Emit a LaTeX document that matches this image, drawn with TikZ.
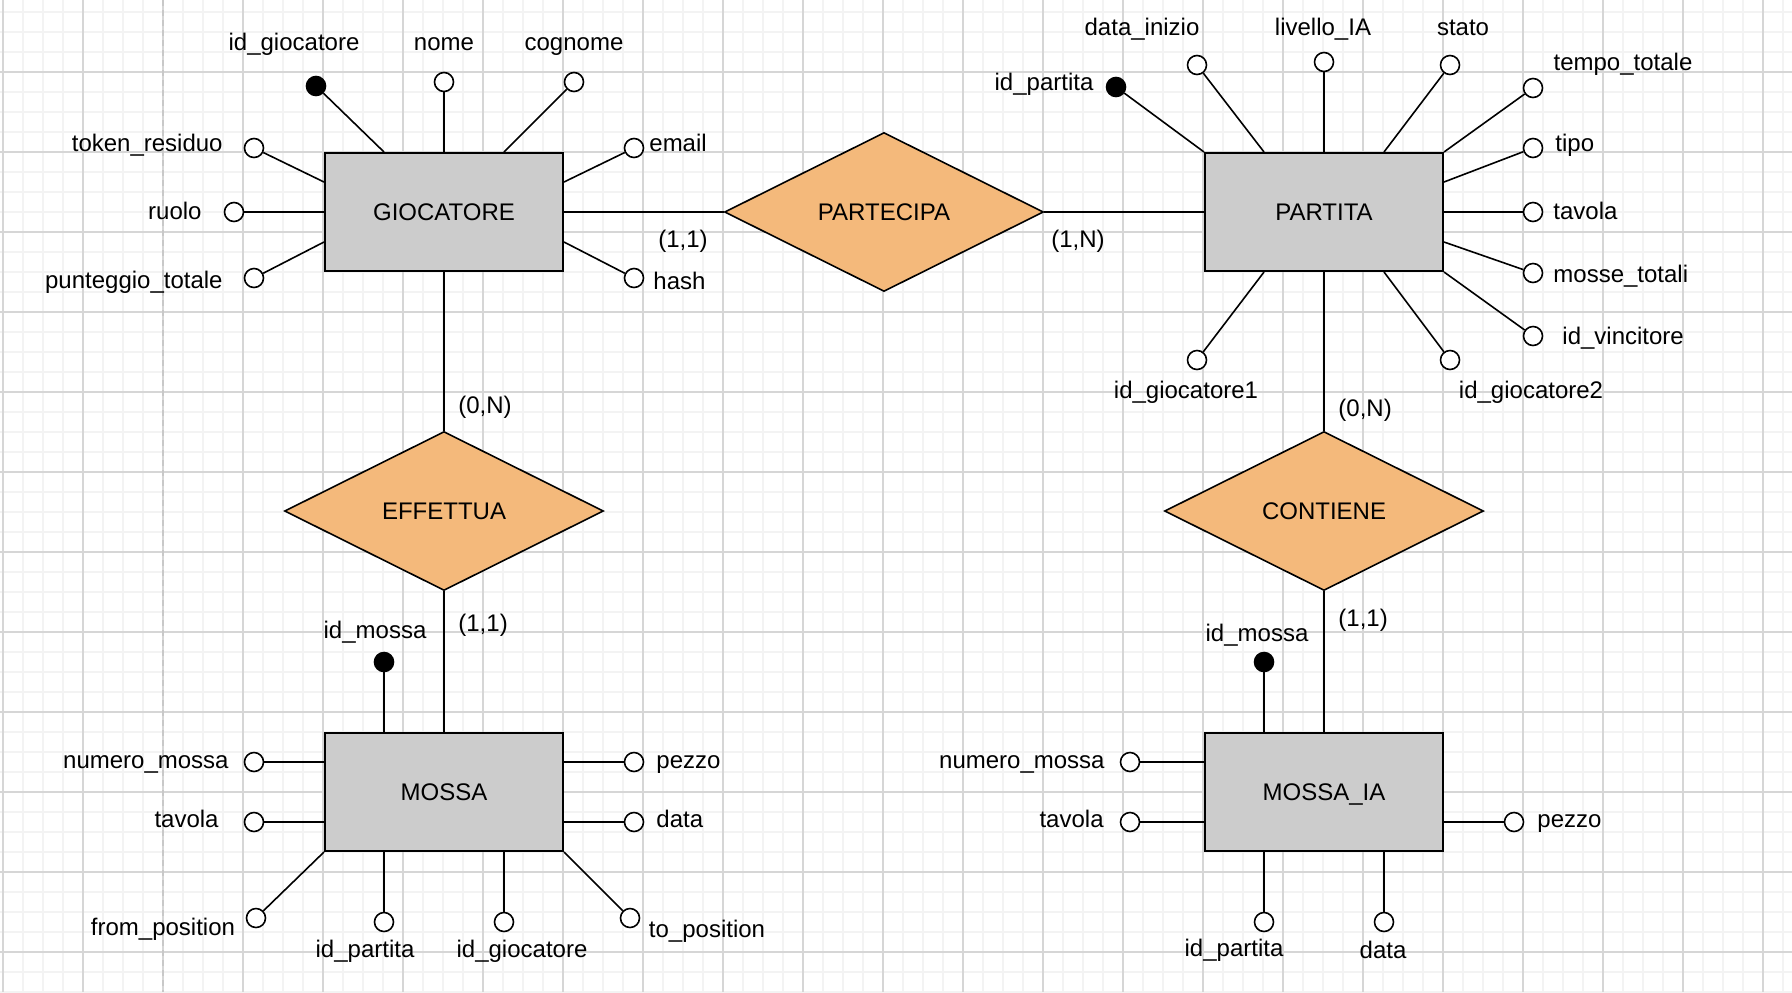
\documentclass[tikz,border=0pt]{standalone}
\usepackage{fontspec}
\setmainfont{Liberation Sans}
\usetikzlibrary{shapes.geometric}
\definecolor{gridmin}{RGB}{243,243,243}
\definecolor{gridmaj}{RGB}{214,214,214}
\definecolor{pageline}{RGB}{200,200,200}
\definecolor{entfill}{RGB}{204,204,204}
\definecolor{relfill}{RGB}{244,185,123}
\begin{document}
\begin{tikzpicture}[x=0.5pt,y=-0.5pt,
  txt/.style={font=\fontsize{12}{14}\selectfont, text height=10pt, text depth=1.6pt},
  entity/.style={txt, draw=black, line width=1pt, fill=entfill, minimum width=119pt, minimum height=59pt, inner sep=0pt},
  relation/.style={txt, diamond, draw=black, line width=0.8pt, fill=relfill, minimum width=159.5pt, minimum height=79.5pt, inner sep=0pt, aspect=2},
  attr/.style={circle, draw=black, line width=0.8pt, fill=white, minimum size=9.5pt, inner sep=0pt},
  keyattr/.style={attr, fill=black},
  lbl/.style={txt, inner sep=0pt},
  conn/.style={line width=0.8pt, draw=black},
]
\useasboundingbox (0,0) rectangle (1792,992);
\fill[white] (0,0) rectangle (1792,992);
% grid
\foreach \x in {3,23,...,1792} \draw[gridmin, line width=1pt] (\x,0) -- (\x,992);
\foreach \y in {12,32,...,992} \draw[gridmin, line width=1pt] (0,\y) -- (1792,\y);
\foreach \x in {3,83,...,1792} \draw[gridmaj, line width=0.8pt] (\x,0) -- (\x,992);
\foreach \y in {72,152,...,992} \draw[gridmaj, line width=0.8pt] (0,\y) -- (1792,\y);
\draw[pageline, line width=0.9pt, dash pattern=on 3pt off 2pt] (163,0) -- (163,992);

% entities and relationships
\node[entity] (G) at (444,212) {GIOCATORE};
\node[entity] (P) at (1324,212) {PARTITA};
\node[entity] (M) at (444,792) {MOSSA};
\node[entity] (MI) at (1324,792) {MOSSA\_IA};
\node[relation] (PA) at (884,212) {PARTECIPA};
\node[relation] (EF) at (444,511) {EFFETTUA};
\node[relation] (CO) at (1324,511) {CONTIENE};

\draw[conn] (G) -- (PA);
\draw[conn] (PA) -- (P);
\draw[conn] (G) -- (EF);
\draw[conn] (EF) -- (M);
\draw[conn] (P) -- (CO);
\draw[conn] (CO) -- (MI);

\node[lbl] (c1) at (683,239) {(1,1)};
\node[lbl] (c2) at (1078,239) {(1,N)};
\node[lbl, anchor=west] (c3) at (458,405) {(0,N)};
\node[lbl, anchor=west] (c4) at (458,623) {(1,1)};
\node[lbl, anchor=west] (c5) at (1338,408) {(0,N)};
\node[lbl, anchor=west] (c6) at (1338,618) {(1,1)};

% GIOCATORE attributes
\node[keyattr] (g1) at (316,86) {};
\node[attr] (g2) at (444,82) {};
\node[attr] (g3) at (574,82) {};
\node[attr] (g4) at (254,148) {};
\node[attr] (g5) at (234,212) {};
\node[attr] (g6) at (254,278) {};
\node[attr] (g7) at (634,148) {};
\node[attr] (g8) at (634,278) {};
\draw[conn] (g1) -- ([xshift=-30pt]G.north);
\draw[conn] (g2) -- (G.north);
\draw[conn] (g3) -- ([xshift=30pt]G.north);
\draw[conn] (g4) -- ([yshift=15pt]G.west);
\draw[conn] (g5) -- (G.west);
\draw[conn] (g6) -- ([yshift=-15pt]G.west);
\draw[conn] (g7) -- ([yshift=15pt]G.east);
\draw[conn] (g8) -- ([yshift=-15pt]G.east);
\node[lbl] (lg1) at (294,42) {id\_giocatore};
\node[lbl] (lg2) at (444,42) {nome};
\node[lbl] (lg3) at (574,42) {cognome};
\node[lbl, anchor=east] (lg4) at (223,143) {token\_residuo};
\node[lbl, anchor=east] (lg5) at (202,211) {ruolo};
\node[lbl, anchor=east] (lg6) at (223,280) {punteggio\_totale};
\node[lbl, anchor=west] (lg7) at (649,143) {email};
\node[lbl, anchor=west] (lg8) at (653,281) {hash};

% PARTITA attributes
\node[keyattr] (p1) at (1116,87) {};
\node[attr] (p2) at (1197,65) {};
\node[attr] (p3) at (1324,62) {};
\node[attr] (p4) at (1450,65) {};
\node[attr] (p5) at (1533,88) {};
\node[attr] (p6) at (1533,148) {};
\node[attr] (p7) at (1533,212) {};
\node[attr] (p8) at (1533,273) {};
\node[attr] (p9) at (1533,336) {};
\node[attr] (p10) at (1197,360) {};
\node[attr] (p11) at (1450,360) {};
\draw[conn] (p1) -- (P.north west);
\draw[conn] (p2) -- ([xshift=-30pt]P.north);
\draw[conn] (p3) -- (P.north);
\draw[conn] (p4) -- ([xshift=30pt]P.north);
\draw[conn] (p5) -- (P.north east);
\draw[conn] (p6) -- ([yshift=15pt]P.east);
\draw[conn] (p7) -- (P.east);
\draw[conn] (p8) -- ([yshift=-15pt]P.east);
\draw[conn] (p9) -- (P.south east);
\draw[conn] (p10) -- ([xshift=-30pt]P.south);
\draw[conn] (p11) -- ([xshift=30pt]P.south);
\node[lbl] (lp1) at (1044,82) {id\_partita};
\node[lbl] (lp2) at (1142,27) {data\_inizio};
\node[lbl] (lp3) at (1323,27) {livello\_IA};
\node[lbl] (lp4) at (1463,27) {stato};
\node[lbl] (lp5) at (1623,62) {tempo\_totale};
\node[lbl, anchor=west] (lp6) at (1555,143) {tipo};
\node[lbl, anchor=west] (lp7) at (1553,211) {tavola};
\node[lbl, anchor=west] (lp8) at (1553,274) {mosse\_totali};
\node[lbl, anchor=west] (lp9) at (1562,336) {id\_vincitore};
\node[lbl] (lp10) at (1186,390) {id\_giocatore1};
\node[lbl] (lp11) at (1531,390) {id\_giocatore2};

% MOSSA attributes
\node[keyattr] (m1) at (384,662) {};
\node[attr] (m2) at (254,762) {};
\node[attr] (m3) at (254,822) {};
\node[attr] (m4) at (634,762) {};
\node[attr] (m5) at (634,822) {};
\node[attr] (m6) at (256,918) {};
\node[attr] (m7) at (384,922) {};
\node[attr] (m8) at (504,922) {};
\node[attr] (m9) at (630,918) {};
\draw[conn] (m1) -- ([xshift=-30pt]M.north);
\draw[conn] (m2) -- ([yshift=15pt]M.west);
\draw[conn] (m3) -- ([yshift=-15pt]M.west);
\draw[conn] (m4) -- ([yshift=15pt]M.east);
\draw[conn] (m5) -- ([yshift=-15pt]M.east);
\draw[conn] (m6) -- (M.south west);
\draw[conn] (m7) -- ([xshift=-30pt]M.south);
\draw[conn] (m8) -- ([xshift=30pt]M.south);
\draw[conn] (m9) -- (M.south east);
\node[lbl] (lm1) at (375,630) {id\_mossa};
\node[lbl, anchor=east] (lm2) at (229,760) {numero\_mossa};
\node[lbl, anchor=east] (lm3) at (219,819) {tavola};
\node[lbl, anchor=west] (lm4) at (656,760) {pezzo};
\node[lbl, anchor=west] (lm5) at (656,819) {data};
\node[lbl] (lm6) at (163,927) {from\_position};
\node[lbl] (lm7) at (365,949) {id\_partita};
\node[lbl] (lm8) at (522,949) {id\_giocatore};
\node[lbl] (lm9) at (707,929) {to\_position};

% MOSSA_IA attributes
\node[keyattr] (i1) at (1264,662) {};
\node[attr] (i2) at (1130,762) {};
\node[attr] (i3) at (1130,822) {};
\node[attr] (i4) at (1514,822) {};
\node[attr] (i5) at (1264,922) {};
\node[attr] (i6) at (1384,922) {};
\draw[conn] (i1) -- ([xshift=-30pt]MI.north);
\draw[conn] (i2) -- ([yshift=15pt]MI.west);
\draw[conn] (i3) -- ([yshift=-15pt]MI.west);
\draw[conn] (i4) -- ([yshift=-15pt]MI.east);
\draw[conn] (i5) -- ([xshift=-30pt]MI.south);
\draw[conn] (i6) -- ([xshift=30pt]MI.south);
\node[lbl] (li1) at (1257,633) {id\_mossa};
\node[lbl, anchor=east] (li2) at (1105,760) {numero\_mossa};
\node[lbl, anchor=east] (li3) at (1104,819) {tavola};
\node[lbl, anchor=west] (li4) at (1537,819) {pezzo};
\node[lbl] (li5) at (1234,948) {id\_partita};
\node[lbl] (li6) at (1383,950) {data};
\end{tikzpicture}
\end{document}
